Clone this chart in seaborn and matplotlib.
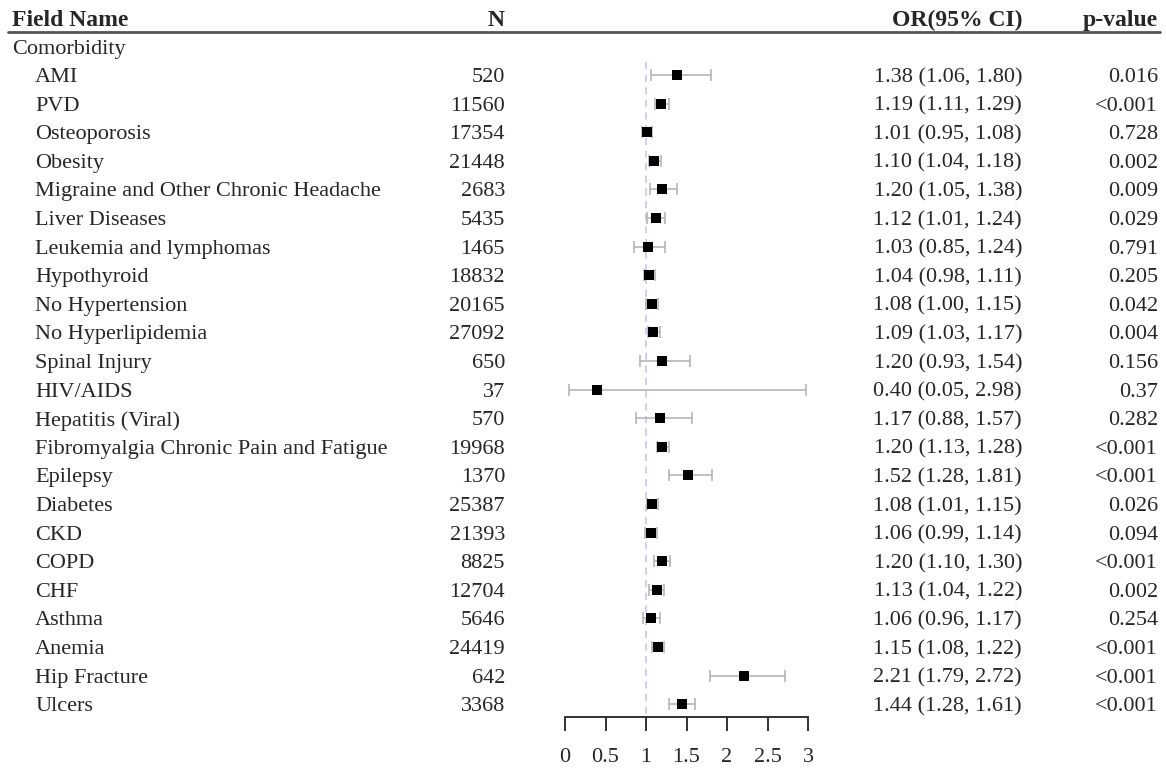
import matplotlib
matplotlib.use("Agg")
import matplotlib.pyplot as plt
import matplotlib.transforms as mtransforms
import seaborn as sns
import pandas as pd

names = ["AMI", "PVD", "Osteoporosis", "Obesity", "Migraine and Other Chronic Headache",
         "Liver Diseases", "Leukemia and lymphomas", "Hypothyroid", "No Hypertension",
         "No Hyperlipidemia", "Spinal Injury", "HIV/AIDS", "Hepatitis (Viral)",
         "Fibromyalgia Chronic Pain and Fatigue", "Epilepsy", "Diabetes", "CKD", "COPD",
         "CHF", "Asthma", "Anemia", "Hip Fracture", "Ulcers"]
n_vals = [520, 11560, 17354, 21448, 2683, 5435, 1465, 18832, 20165, 27092, 650, 37, 570,
          19968, 1370, 25387, 21393, 8825, 12704, 5646, 24419, 642, 3368]
or_vals = [1.38, 1.19, 1.01, 1.10, 1.20, 1.12, 1.03, 1.04, 1.08, 1.09, 1.20, 0.40, 1.17,
           1.20, 1.52, 1.08, 1.06, 1.20, 1.13, 1.06, 1.15, 2.21, 1.44]
lo_vals = [1.06, 1.11, 0.95, 1.04, 1.05, 1.01, 0.85, 0.98, 1.00, 1.03, 0.93, 0.05, 0.88,
           1.13, 1.28, 1.01, 0.99, 1.10, 1.04, 0.96, 1.08, 1.79, 1.28]
hi_vals = [1.80, 1.29, 1.08, 1.18, 1.38, 1.24, 1.24, 1.11, 1.15, 1.17, 1.54, 2.98, 1.57,
           1.28, 1.81, 1.15, 1.14, 1.30, 1.22, 1.17, 1.22, 2.72, 1.61]
p_vals = ["0.016", "<0.001", "0.728", "0.002", "0.009", "0.029", "0.791", "0.205", "0.042",
          "0.004", "0.156", "0.37", "0.282", "<0.001", "<0.001", "0.026", "0.094", "<0.001",
          "0.002", "0.254", "<0.001", "<0.001", "<0.001"]
group_label = "Comorbidity"
headers = ["Field Name", "N", "OR(95% CI)", "p-value"]
x_ticks = [0, 0.5, 1, 1.5, 2, 2.5, 3]

df = pd.DataFrame({"name": names, "n": n_vals, "or": or_vals, "lo": lo_vals, "hi": hi_vals,
                   "p": p_vals})
df["row"] = range(len(df))

sns.set_theme(style="white")
plt.rcParams["font.family"] = ["Liberation Serif", "DejaVu Serif"]

W, H = 1166, 769
fig = plt.figure(figsize=(W / 100, H / 100), dpi=100)

y_top_row, y_bot_row = -2.5, 22.45
top_px, bot_px = 3.5, 717
ax = fig.add_axes([565 / W, 1 - bot_px / H, (808 - 565) / W, (bot_px - top_px) / H])
ax.set_xlim(0, 3)
ax.set_ylim(y_bot_row, y_top_row)
for s in ["top", "right", "left"]:
    ax.spines[s].set_visible(False)
ax.spines["bottom"].set_color("#222222")
ax.spines["bottom"].set_linewidth(1.3)
ax.set_xticks(x_ticks)
ax.set_xticklabels([f"{t:g}" for t in x_ticks], fontsize=16)
ax.tick_params(axis="x", direction="out", length=10, width=1.3, color="#222222",
               bottom=True, pad=12)
ax.set_yticks([])
ax.patch.set_alpha(0)

# reference line
ax.plot([1, 1], [-0.45, y_bot_row], ls=(0, (4, 3)), color="#c9c9fb", lw=1.3, zorder=1)

# CI
ax.errorbar(df["or"], df["row"], xerr=[df["or"] - df["lo"], df["hi"] - df["or"]],
            fmt="none", ecolor="#b5b5b5", elinewidth=1.2, capsize=4, capthick=1.2, zorder=2)
sns.scatterplot(data=df, x="or", y="row", marker="s", color="black", s=62,
                edgecolor="black", linewidth=0, ax=ax, zorder=3, legend=False)
ax.set_xlabel("")
ax.set_ylabel("")

trans = mtransforms.blended_transform_factory(fig.transFigure, ax.transData)
fs = 16
hfs = 17
hdr_y = -2.0
va = "center_baseline"
for xpx, txt, ha in [(12, headers[0], "left"), (505, headers[1], "right"),
                     (1022, headers[2], "right"), (1158, headers[3], "right")]:
    ax.text(xpx / W, hdr_y, txt, transform=trans, ha=ha, va=va, fontsize=hfs,
            fontweight="bold", clip_on=False)
ax.plot([8 / W, 1160 / W], [-1.5, -1.5], transform=trans, color="#555555", lw=2,
        clip_on=False)
ax.text(12 / W, -0.98, group_label, transform=trans, ha="left", va=va, fontsize=fs,
        clip_on=False)

for _, r in df.iterrows():
    y = r["row"]
    ax.text(35 / W, y, r["name"], transform=trans, ha="left", va=va, fontsize=fs,
            clip_on=False)
    ax.text(505 / W, y, f"{r['n']}", transform=trans, ha="right", va=va, fontsize=fs,
            clip_on=False)
    ax.text(1022 / W, y, f"{r['or']:.2f} ({r['lo']:.2f}, {r['hi']:.2f})", transform=trans,
            ha="right", va=va, fontsize=fs, clip_on=False)
    ax.text(1158 / W, y, r["p"], transform=trans, ha="right", va=va, fontsize=fs,
            clip_on=False)

fig.savefig("out.png", dpi=100)
